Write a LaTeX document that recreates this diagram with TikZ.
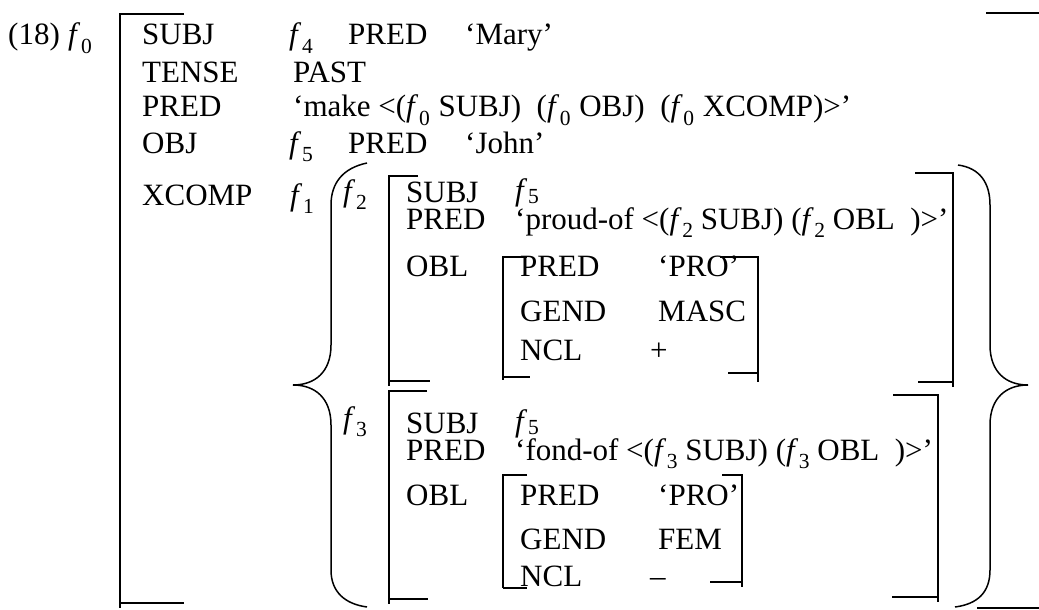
\documentclass[tikz,border=0pt]{standalone}
\usepackage{fontspec}
\setmainfont{Liberation Serif}
% italic f with a lowered upright index
\newcommand\fv[1]{\textit{f}\kern0.02em\raisebox{-0.26em}{\fontsize{21.5}{21.5}\selectfont #1}}
% same, with the index set a little higher
\newcommand\fh[1]{\textit{f}\kern0.02em\raisebox{-0.12em}{\fontsize{21.5}{21.5}\selectfont #1}}
\begin{document}
\begin{tikzpicture}[x=1pt,y=-1pt,
  every node/.style={anchor=base west, inner sep=0pt, font=\fontsize{31}{31}\selectfont},
  rule/.style={line width=1.5pt, line cap=butt}]
\useasboundingbox (0,0) rectangle (1039,610);

% ---- outer f-structure f0 ----
\node (ex) at (8,45) {(18)};
\node (f0) at (68,45) {\fv{0}};
\node (a1) at (142,45) {SUBJ};
\node (a2) at (142,82) {TENSE};
\node (a3) at (142,117) {PRED};
\node (a4) at (142,153) {OBJ};
\node (a5) at (142,205) {XCOMP};
\node (v1) at (289,45) {\fv{4}};
\node (v1p) at (348,45) {PRED};
\node (v1v) at (465,45) {`Mary'};
\node (v2) at (293,82) {PAST};
\node (v3) at (293,117) {`make <(\fv{0}\hspace{1pt} SUBJ) \ (\fv{0}\hspace{1pt} OBJ) \ (\fv{0}\hspace{1pt} XCOMP)>'};
\node (v4) at (289,153) {\fv{5}};
\node (v4p) at (348,153) {PRED};
\node (v4v) at (465,153) {`John'};
\node (v5) at (290,205) {\fv{1}};

\draw[rule] (184,14) -- (120,14) -- (120,608);
\draw[rule] (120,603) -- (184,603);
\draw[rule] (986,13) -- (1039,13);
\draw[rule] (977,608) -- (1039,608);

% ---- set of two f-structures ----
\draw[rule] (367,163) .. controls (343,168) and (331,183) .. (331,205)
  -- (331,345) .. controls (331,372) and (315,385) .. (293,385)
  .. controls (315,385) and (331,398) .. (331,425)
  -- (331,570) .. controls (331,592) and (345,604) .. (367,607);
\draw[rule] (958,165) .. controls (980,168) and (990,183) .. (990,205)
  -- (990,345) .. controls (990,372) and (1006,385) .. (1028,385)
  .. controls (1006,385) and (990,398) .. (990,425)
  -- (990,570) .. controls (990,592) and (978,604) .. (955,607);

% ---- f2 ----
\node (f2) at (343,201) {\fv{2}};
\node (b1) at (406,202) {SUBJ};
\node (b1v) at (515,200) {\fh{5}};
\node (b2) at (406,229) {PRED};
\node (b2v) at (515,229) {`proud-of <(\fv{2} SUBJ) (\fv{2} OBL\ \ )>'};
\node (b3) at (406,276) {OBL};
\node (c1) at (520,276) {PRED};
\node (c1v) at (658,276) {`PRO'};
\node (c2) at (520,321) {GEND};
\node (c2v) at (658,321) {MASC};
\node (c3) at (520,360) {NCL};
\node (c3v) at (650,360) {+};

\draw[rule] (418,176) -- (389,176) -- (389,386);
\draw[rule] (389,381) -- (430,381);
\draw[rule] (915,173) -- (953,173) -- (953,387);
\draw[rule] (918,382) -- (953,382);
\draw[rule] (527,257) -- (503,257) -- (503,380);
\draw[rule] (503,377) -- (530,377);
\draw[rule] (720,257) -- (758,257) -- (758,382);
\draw[rule] (728,373) -- (758,373);

% ---- f3 ----
\node (f3) at (343,428) {\fv{3}};
\node (d1) at (406,433) {SUBJ};
\node (d1v) at (515,431) {\fh{5}};
\node (d2) at (406,460) {PRED};
\node (d2v) at (515,460) {`fond-of <(\fv{3} SUBJ) (\fv{3} OBL\ \ )>'};
\node (d3) at (406,505) {OBL};
\node (e1) at (520,505) {PRED};
\node (e1v) at (658,505) {`PRO'};
\node (e2) at (520,549) {GEND};
\node (e2v) at (658,549) {FEM};
\node (e3) at (520,586) {NCL};
\node (e3v) at (650,586) {--};

\draw[rule] (427,391) -- (389,391) -- (389,604);
\draw[rule] (389,599) -- (428,599);
\draw[rule] (893,395) -- (938,395) -- (938,602);
\draw[rule] (892,597) -- (938,597);
\draw[rule] (527,475) -- (503,475) -- (503,588);
\draw[rule] (503,588) -- (527,588);
\draw[rule] (722,475) -- (742,475) -- (742,587);
\draw[rule] (710,582) -- (742,582);
\end{tikzpicture}
\end{document}
